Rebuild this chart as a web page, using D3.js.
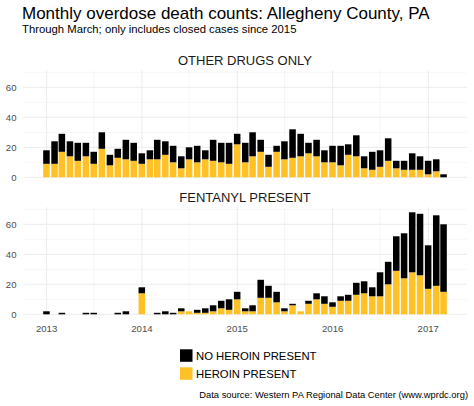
<!DOCTYPE html>
<html>
<head>
<meta charset="utf-8">
<script src="https://cdn.jsdelivr.net/npm/d3@7"></script>
<style>
  html, body { margin: 0; padding: 0; background: #fff; }
  svg { display: block; font-family: "Liberation Sans", Arial, Helvetica, sans-serif; }
</style>
</head>
<body>
<svg id="chart" width="474" height="406"></svg>
<script>
// ---- Data ----
const months = [
  "2013-01","2013-02","2013-03","2013-04","2013-05","2013-06","2013-07","2013-08","2013-09","2013-10","2013-11","2013-12",
  "2014-01","2014-02","2014-03","2014-04","2014-05","2014-06","2014-07","2014-08","2014-09","2014-10","2014-11","2014-12",
  "2015-01","2015-02","2015-03","2015-04","2015-05","2015-06","2015-07","2015-08","2015-09","2015-10","2015-11","2015-12",
  "2016-01","2016-02","2016-03","2016-04","2016-05","2016-06","2016-07","2016-08","2016-09","2016-10","2016-11","2016-12",
  "2017-01","2017-02","2017-03"
];
const panels = ["OTHER DRUGS ONLY", "FENTANYL PRESENT"];
const seriesNames = ["HEROIN PRESENT", "NO HEROIN PRESENT"];

// Other drugs only
const otherHeroin = [
  9,9,17,14,11,14,9,19,8,13,12,11,
  9,12,12,15,10,6,12,10,12,11,10,9,
  22,10,14,17,7,17,12,13,14,16,14,10,
  10,8,15,14,6,5,7,11,6,5,5,5,
  2,4,0
];
const otherNoHeroin = [
  9,15,12,10,12,9,8,11,7,6,13,12,
  7,6,13,9,11,8,8,11,6,14,13,14,
  7,13,16,8,8,4,12,19,15,7,11,8,
  11,13,7,14,8,12,11,15,5,6,11,9,
  9,8,2
];
// Fentanyl present
const fentHeroin = [
  0,0,0,0,0,0,0,0,0,0,0,0,
  14,0,0,0,0,2,2,1,1,2,4,3,
  10,2,2,11,11,8,2,6,2,7,10,7,
  5,9,9,13,14,12,12,20,29,24,28,26,
  17,19,15
];
const fentNoHeroin = [
  2,0,1,0,0,1,1,0,0,1,2,0,
  4,0,1,2,1,2,0,2,3,4,5,7,
  5,2,4,12,8,7,2,1,0,2,4,5,
  3,3,4,8,8,6,16,15,23,30,40,41,
  29,47,45
];
const yTicks = [0, 20, 40, 60];
const xTickYears = ["2013","2014","2015","2016","2017"];

const colors = { "HEROIN PRESENT": "#FFC125", "NO HEROIN PRESENT": "#000000" };

// ---- Layout ----
const svg = d3.select("#chart");
const parse = d3.timeParse("%Y-%m");
const dates = months.map(parse);
const yearDates = xTickYears.map(y => d3.timeParse("%Y")(y));
const minorDates = xTickYears.map(y => d3.timeParse("%Y-%m")(y + "-07"));

const panelLeft = 23, panelRight = 467;
const halfBar = 12.6; // days (0.9 * 28 / 2)
const dMin = d3.timeDay.offset(dates[0], -halfBar);
const dMax = d3.timeDay.offset(dates[dates.length - 1], halfBar);
const span = dMax - dMin;
const x = d3.scaleTime()
  .domain([new Date(+dMin - span * 0.05), new Date(+dMax + span * 0.05)])
  .range([panelLeft, panelRight]);

const panelData = [
  { name: panels[0], heroin: otherHeroin, noHeroin: otherNoHeroin, y0: 177.3, strip: 65 },
  { name: panels[1], heroin: fentHeroin, noHeroin: fentNoHeroin, y0: 314.3, strip: 202 }
];

const maxTotal = d3.max(panelData.flatMap(p => p.heroin.map((h, i) => h + p.noHeroin[i])));
const yMax = maxTotal * 1.05;
const panelH = yMax * 1.5;

// Title and subtitle
svg.append("text").attr("x", 22).attr("y", 18.5)
  .attr("font-size", 17).attr("fill", "#000")
  .text("Monthly overdose death counts: Allegheny County, PA");
svg.append("text").attr("x", 22).attr("y", 33.3)
  .attr("font-size", 11.3).attr("fill", "#000")
  .text("Through March; only includes closed cases since 2015");

panelData.forEach(p => {
  const y = d3.scaleLinear().domain([0, yMax]).range([p.y0, p.y0 - panelH]);
  const g = svg.append("g");

  // strip label
  g.append("text").attr("x", (panelLeft + panelRight) / 2).attr("y", p.strip)
    .attr("text-anchor", "middle").attr("font-size", 13).attr("fill", "#1a1a1a")
    .text(p.name);

  // minor grid
  const yMinor = [10, 30, 50, 70].filter(v => v <= yMax);
  g.selectAll(".hminor").data(yMinor).join("line")
    .attr("x1", panelLeft).attr("x2", panelRight)
    .attr("y1", d => y(d)).attr("y2", d => y(d))
    .attr("stroke", "#f0f0f0").attr("stroke-width", 0.6);
  g.selectAll(".vminor").data(minorDates.filter(d => x(d) <= panelRight)).join("line")
    .attr("x1", d => x(d)).attr("x2", d => x(d))
    .attr("y1", y(0)).attr("y2", y(yMax))
    .attr("stroke", "#f0f0f0").attr("stroke-width", 0.6);
  // major grid
  g.selectAll(".hmajor").data(yTicks).join("line")
    .attr("x1", panelLeft).attr("x2", panelRight)
    .attr("y1", d => y(d)).attr("y2", d => y(d))
    .attr("stroke", "#ebebeb").attr("stroke-width", 1);
  g.selectAll(".vmajor").data(yearDates).join("line")
    .attr("x1", d => x(d)).attr("x2", d => x(d))
    .attr("y1", y(0)).attr("y2", y(yMax))
    .attr("stroke", "#ebebeb").attr("stroke-width", 1);

  // y tick labels
  g.selectAll(".ylab").data(yTicks).join("text")
    .attr("x", 16.5).attr("y", d => y(d)).attr("dy", "0.35em")
    .attr("text-anchor", "end").attr("font-size", 9.6).attr("fill", "#4d4d4d")
    .text(d => d);

  // stacked bars
  const rows = dates.map((d, i) => ({ date: d, "HEROIN PRESENT": p.heroin[i], "NO HEROIN PRESENT": p.noHeroin[i] }));
  const stack = d3.stack().keys(seriesNames)(rows);
  stack.forEach(layer => {
    g.append("g").attr("fill", colors[layer.key])
      .selectAll("rect").data(layer.filter(s => s[1] > s[0])).join("rect")
      .attr("x", s => x(d3.timeDay.offset(s.data.date, -halfBar)))
      .attr("width", s => x(d3.timeDay.offset(s.data.date, halfBar)) - x(d3.timeDay.offset(s.data.date, -halfBar)))
      .attr("y", s => y(s[1]))
      .attr("height", s => y(s[0]) - y(s[1]));
  });
});

// x tick labels (bottom panel)
svg.selectAll(".xlab").data(yearDates).join("text")
  .attr("x", d => x(d)).attr("y", 331.7)
  .attr("text-anchor", "middle").attr("font-size", 9.6).attr("fill", "#4d4d4d")
  .text((d, i) => xTickYears[i]);

// legend
const legendItems = ["NO HEROIN PRESENT", "HEROIN PRESENT"];
const lg = svg.append("g");
legendItems.forEach((name, i) => {
  const yy = 349.3 + i * 18;
  lg.append("rect").attr("x", 180).attr("y", yy).attr("width", 12.5).attr("height", 12.5)
    .attr("fill", colors[name]);
  lg.append("text").attr("x", 196).attr("y", yy + 10.2).attr("font-size", 11.3).attr("fill", "#000")
    .text(name);
});

// caption
svg.append("text").attr("x", 468).attr("y", 398).attr("text-anchor", "end")
  .attr("font-size", 9.35).attr("fill", "#000")
  .text("Data source: Western PA Regional Data Center (www.wprdc.org)");
</script>
</body>
</html>
